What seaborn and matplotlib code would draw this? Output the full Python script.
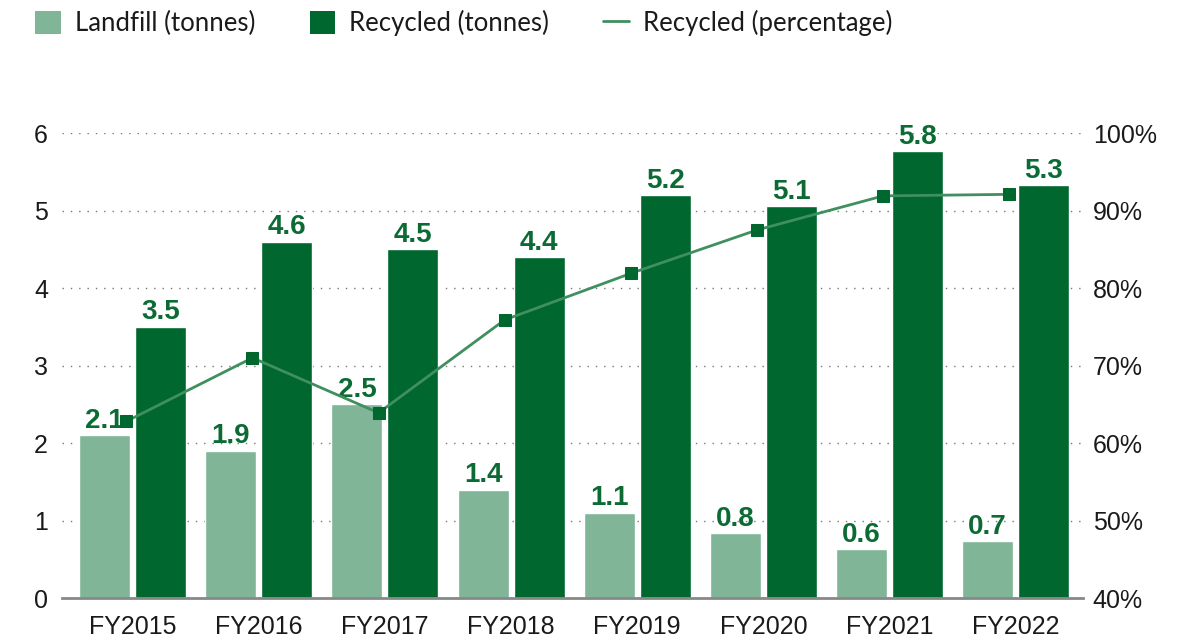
import matplotlib as mpl
mpl.use("Agg")
import matplotlib.pyplot as plt
from matplotlib.lines import Line2D
from matplotlib.patches import Patch
import numpy as np
import pandas as pd
import seaborn as sns

# data
years = ["FY2015", "FY2016", "FY2017", "FY2018", "FY2019", "FY2020", "FY2021", "FY2022"]
landfill = [2.1, 1.9, 2.5, 1.4, 1.1, 0.84, 0.63, 0.73]
recycled = [3.5, 4.6, 4.5, 4.4, 5.2, 5.06, 5.77, 5.33]
recycled_pct = [62.8, 71.0, 63.9, 75.9, 81.9, 87.5, 91.9, 92.1]
series_names = ["Landfill (tonnes)", "Recycled (tonnes)", "Recycled (percentage)"]

LIGHT = "#80b597"
DARK = "#00672f"
LINE = "#3f8f5f"
LABEL = "#0c6b35"

sns.set_theme(style="white")
plt.rcParams["font.family"] = ["Liberation Sans", "DejaVu Sans"]

df = pd.DataFrame({
    "year": years * 2,
    "series": [series_names[0]] * len(years) + [series_names[1]] * len(years),
    "tonnes": landfill + recycled,
})

fig = plt.figure(figsize=(11.85, 6.37), dpi=100)
ax = fig.add_axes([0.0523, 0.0612, 0.8617, 0.7298])

sns.barplot(data=df, x="year", y="tonnes", hue="series",
            hue_order=series_names[:2], palette=[LIGHT, DARK],
            width=0.888, gap=0.09, saturation=1, legend=False, ax=ax)

for cont in ax.containers:
    ax.bar_label(cont, fmt="%.1f", padding=1, color=LABEL,
                 fontsize=20, fontweight="bold")

ax.set_ylim(0, 6)
ax.set_xlim(-0.56, len(years) - 1 + 0.535)
ax.set_yticks(range(0, 7))
ax.set_xlabel("")
ax.set_ylabel("")
ax.tick_params(axis="both", length=0, labelsize=18, colors="#1a1a1a")
ax.tick_params(axis="x", pad=12)
ax.tick_params(axis="y", pad=10)
ax.yaxis.grid(True, linestyle=(0, (1, 5)), color="#777777", linewidth=1)
ax.set_axisbelow(True)
for side in ["top", "right", "left"]:
    ax.spines[side].set_visible(False)
ax.spines["bottom"].set_color("#888888")
ax.spines["bottom"].set_linewidth(2)

ax2 = ax.twinx()
xpos = np.arange(len(years)) - 0.05
sns.lineplot(x=xpos, y=recycled_pct, ax=ax2, color=LINE, linewidth=2,
             marker="s", markersize=9, markerfacecolor=DARK,
             markeredgecolor=DARK)
ax2.set_ylim(40, 100)
ax2.set_yticks(range(40, 101, 10))
ax2.set_yticklabels([f"{v}%" for v in range(40, 101, 10)])
ax2.tick_params(axis="y", length=0, labelsize=18, colors="#1a1a1a", pad=7)
ax2.grid(False)
for side in ["top", "right", "left", "bottom"]:
    ax2.spines[side].set_visible(False)

handles = [Patch(facecolor=LIGHT, edgecolor="none"),
           Patch(facecolor=DARK, edgecolor="none"),
           Line2D([0], [0], color=LINE, linewidth=2)]
fig.legend(handles, series_names, loc="upper left", ncol=3,
           bbox_to_anchor=(0.019, 1.004), frameon=False,
           prop={"family": ["Lato", "DejaVu Sans"], "size": 18.5},
           handlelength=1.0, handleheight=1.0, handletextpad=0.55,
           columnspacing=2.1, borderpad=0, labelcolor="#1a1a1a")

fig.savefig("out.png", dpi=100)
